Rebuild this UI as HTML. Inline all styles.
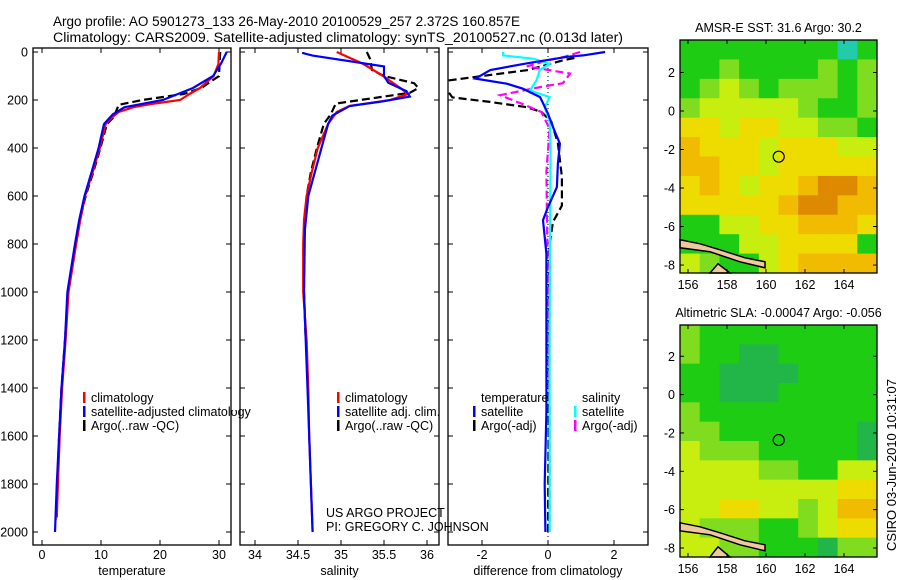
<!DOCTYPE html>
<html><head><meta charset="utf-8">
<style>
body{margin:0;background:#fff;}
svg{display:block;font-family:"Liberation Sans",sans-serif;}
</style></head>
<body>
<svg id="fig" width="900" height="580" viewBox="0 0 900 580">
<text x="53" y="26" font-size="13.5" textLength="467" lengthAdjust="spacingAndGlyphs">Argo profile: AO 5901273_133 26-May-2010 20100529_257 2.372S 160.857E</text>
<text x="53" y="42" font-size="13.5" textLength="570" lengthAdjust="spacingAndGlyphs">Climatology: CARS2009. Satellite-adjusted climatology: synTS_20100527.nc (0.013d later)</text>
<g id="p1"></g>
<g id="p2"></g>
<g id="p3"></g>
<g id="m1"></g>
<g id="m2"></g>
<text x="896" y="465" font-size="13" transform="rotate(-90 896 465)" text-anchor="middle">CSIRO 03-Jun-2010 10:31:07</text>
<text x="326" y="517" font-size="12.5">US ARGO PROJECT</text>
<text x="326" y="531" font-size="12.5">PI: GREGORY C. JOHNSON</text>
</svg>
<script>
// ---------- data ----------
const depthTicks=[0,200,400,600,800,1000,1200,1400,1600,1800,2000];
const tempTicks=[0,10,20,30];
const salTicks=[34,34.5,35,35.5,36];
const diffTicks=[-2,0,2];
const tClimD=[0,50,100,150,175,200,215,230,250,270,300,400,500,600,700,800,1000,1200,1400,1600,1800,1940];
const tClimV=[30,29.9,29.1,26.8,25,23.4,19,15.5,13,12,10.8,9.8,8.6,7.3,6.5,5.8,4.5,4.0,3.4,3.0,2.7,2.5];
const tSatD=[0,50,100,150,200,230,260,300,400,500,600,700,800,1000,1200,1400,1600,1800,2000];
const tSatV=[31.3,30.3,29,25.6,20.5,14,12,10.5,9.6,8.4,7.2,6.3,5.6,4.3,3.9,3.3,2.9,2.5,2.2];
const tArgD=[0,100,150,175,200,220,250,270,300,400,500,600,700,800,1000,1200,1400,1600,1800,1950];
const tArgV=[30.2,30,27,24,17,13,12.5,12.2,11,9.9,8.7,7.4,6.4,5.7,4.4,3.9,3.3,2.9,2.6,2.3];
const sClimD=[0,50,100,150,175,200,225,250,300,400,500,600,700,800,1000,1200,1400,1600,1800,2000];
const sClimV=[34.95,35.26,35.49,35.69,35.78,35.57,35.1,34.95,34.85,34.73,34.66,34.6,34.57,34.56,34.56,34.6,34.62,34.63,34.65,34.67];
const sSatD=[0,5,15,60,100,128,163,186,205,225,265,300,430,600,740,1000,1200,1400,1600,1800,2000];
const sSatV=[34.56,34.56,34.67,35.5,35.5,35.55,35.76,35.8,35.5,35.1,34.9,34.85,34.75,34.62,34.58,34.57,34.59,34.61,34.63,34.65,34.67];
const sArgD=[0,30,75,100,130,150,170,195,215,260,300,400,500,600,800,1000,1200];
const sArgV=[35.3,35.34,35.36,35.5,35.85,35.9,35.8,35.32,34.94,34.88,34.8,34.72,34.65,34.6,34.57,34.57,34.59];
const dTSatD=[0,14,20,47,75,111,132,153,188,257,313,382,465,563,646,701,771,840,979,1200,1500,1800,2000];
const dTSatV=[1.73,1.06,0.58,-0.63,-1.75,-2.2,-1.25,-0.76,-0.24,0,0.15,0.36,0.3,0.27,0,-0.15,-0.1,-0.05,-0.05,-0.05,-0.05,-0.1,-0.08];
const dTArgD=[25,33,75,120,150,189,208,230,250,290,380,520,640,708,800,1000,1500,2000];
const dTArgV=[0.8,0.5,-0.6,-3.1,-3.1,-2.9,-1.76,-0.64,-0.2,0.1,0.3,0.42,0.42,0.15,0.05,0.03,0.02,0.0];
const dSSatD=[0,14,28,50,75,118,160,188,230,290,400,800,1200,1600,2000];
const dSSatV=[-1.36,-1.36,-0.45,0.05,-0.25,-0.35,-0.55,0.05,-0.1,0.05,0.08,0.06,0.05,0.05,0.05];
const dSArgD=[0,20,35,60,90,130,145,180,215,250,320,500,1000,1500,2000];
const dSArgV=[0.97,0.5,0,-0.64,0.67,0.45,-0.2,-1.45,-0.8,-0.2,0.05,-0.05,0.0,0.05,0.05];
const mapLonTicks=[156,158,160,162,164];
const mapLatTicks=[2,0,-2,-4,-6,-8];
const sstRows=["GGGGGGGGcG","GGgGGGGgGg","GgygGgggGg","gyyyyygGGg","YYyYYyyggG","OYYYyYYYyy","OOYYyYYYYY","YOYyYYORRO","YYYYYORROO","GGyyYYOOOY","GGGyyYYYYG","ygGGyYOOOO"];
const slaRows=["gGGGGGGGGG","gGGDDGGGGG","GGDDDDGGGG","GGDDDGGGGG","gGGGGGGGGG","ggGGGGGGGD","ygggGGGGGD","yyyyggGGyy","yyyyyyyyYY","yyYYyygyOO","ygggGGgyYY","yyggGGGDgg"];
const floatLon=160.857, floatLat=-2.372;

// ---------- helpers ----------
const NS="http://www.w3.org/2000/svg";
function mk(parent,tag,attrs){const e=document.createElementNS(NS,tag);for(const k in attrs)e.setAttribute(k,attrs[k]);parent.appendChild(e);return e;}
const Y0=52,YK=0.24;
const yD=d=>Y0+d*YK;
const xT=v=>42+v*5.9;
const xS=v=>298+(v-34.5)*86;
const xDf=v=>548+v*33;
const TOP=48,BOT=545;

function panel(g,x0,x1,xs,ticks,label,showDepth){
  const cp=mk(g,'clipPath',{id:'c'+g.id});
  mk(cp,'rect',{x:x0,y:TOP,width:x1-x0,height:BOT-TOP});
  const fr=mk(g,'rect',{x:x0,y:TOP,width:x1-x0,height:BOT-TOP,fill:'none',stroke:'#000','stroke-width':1.3});
  
  
  depthTicks.forEach(d=>{
    const y=yD(d);
    mk(g,'line',{x1:x0,x2:x0+5,y1:y,y2:y,stroke:'#000'});
    mk(g,'line',{x1:x1-5,x2:x1,y1:y,y2:y,stroke:'#000'});
    if(showDepth){const t=mk(g,'text',{x:28,y:y+4.5,'font-size':12.5,'text-anchor':'end'});t.textContent=d;
      
      }
  });
  ticks.forEach(v=>{
    const x=xs(v);
    mk(g,'line',{x1:x,x2:x,y1:BOT,y2:BOT-5,stroke:'#000'});
    mk(g,'line',{x1:x,x2:x,y1:TOP,y2:TOP+5,stroke:'#000'});
    const t=mk(g,'text',{x:x,y:559,'font-size':12.5,'text-anchor':'middle'});t.textContent=v;
    
    
  });
  const l=mk(g,'text',{x:(x0+x1)/2,y:575,'font-size':12.5,'text-anchor':'middle'});l.textContent=label;
  
  
}
function series(g,D,V,xs,color,dash,name){
  const pts=D.map((d,i)=>xs(V[i]).toFixed(1)+','+yD(d).toFixed(1)).join(' ');
  const a={points:pts,fill:'none',stroke:color,'stroke-width':2.2,'clip-path':'url(#c'+g.id+')'};
  if(dash)a['stroke-dasharray']=dash;
  const p=mk(g,'polyline',a);
  
  
}
function legend(g,x,y,color,text,name){
  mk(g,'rect',{x:x,y:y-10,width:2.5,height:11,fill:color});
  const t=mk(g,'text',{x:x+8,y:y,'font-size':12.5});t.textContent=text;
  
  
}

// ---------- panels ----------
const p1=document.getElementById('p1'),p2=document.getElementById('p2'),p3=document.getElementById('p3');
panel(p1,33,231,xT,tempTicks,'temperature',true);
series(p1,tArgD,tArgV,xT,'#000','8,4','temp-argo-line');
series(p1,tClimD,tClimV,xT,'#f00',null,'temp-climatology-line');
series(p1,tSatD,tSatV,xT,'#00f',null,'temp-satellite-line');
legend(p1,83,402,'#f00','climatology','legend-climatology');
legend(p1,83,416,'#00f','satellite-adjusted climatology','legend-satellite');
legend(p1,83,430,'#000','Argo(..raw -QC)','legend-argo');

panel(p2,240,439,xS,salTicks,'salinity',false);
series(p2,sArgD,sArgV,xS,'#000','8,4','sal-argo-line');
series(p2,sClimD,sClimV,xS,'#f00',null,'sal-climatology-line');
series(p2,sSatD,sSatV,xS,'#00f',null,'sal-satellite-line');
legend(p2,337,402,'#f00','climatology','legend-climatology');
legend(p2,337,416,'#00f','satellite adj. clim.','legend-satellite');
legend(p2,337,430,'#000','Argo(..raw -QC)','legend-argo');
mk(p1,'rect',{x:232,y:390,width:7,height:20,fill:'#fff'});

panel(p3,448,648,xDf,diffTicks,'difference from climatology',false);
mk(p3,'line',{x1:xDf(0),x2:xDf(0),y1:TOP,y2:BOT,stroke:'#000','stroke-dasharray':'1,3','stroke-width':1});
series(p3,dTArgD,dTArgV,xDf,'#000','8,4','diff-temp-argo-line');
series(p3,dSArgD,dSArgV,xDf,'#f0f','8,4','diff-sal-argo-line');
series(p3,dSSatD,dSSatV,xDf,'#0ff',null,'diff-sal-satellite-line');
series(p3,dTSatD,dTSatV,xDf,'#00f',null,'diff-temp-satellite-line');
const lt=mk(p3,'text',{x:481,y:402,'font-size':12.5});lt.textContent='temperature';


legend(p3,473,416,'#00f','satellite','legend-temp-satellite');
legend(p3,473,430,'#000','Argo(-adj)','legend-temp-argo');
const ls=mk(p3,'text',{x:582,y:402,'font-size':12.5});ls.textContent='salinity';


legend(p3,574,416,'#0ff','satellite','legend-sal-satellite');
legend(p3,574,430,'#f0f','Argo(-adj)','legend-sal-argo');

// ---------- maps ----------
const COL={G:'#1fcc14',g:'#7fdc1e',y:'#c8ee10',Y:'#eedc00',O:'#f0bb00',R:'#dd8a00',c:'#22ccaa',D:'#22b648'};
function map(g,top,bot,rows,title,ycenter){
  const x0=680,x1=877;
  const lon=v=>688+(v-156)*19.5;
  const k=(bot-top)/12.1;
  const lat=v=>ycenter-v*k;
  const cw=(x1-x0)/10,ch=(bot-top)/12;
  rows.forEach((r,i)=>{for(let j=0;j<r.length;j++){
    const c=mk(g,'rect',{x:x0+j*cw,y:top+i*ch,width:cw+0.5,height:ch+0.5,fill:COL[r[j]]});
    
    
  }});
  const cy=lat(-7);
  const coast=mk(g,'path',{d:`M${x0} ${cy-6} L${x0+20} ${cy-2} L${x0+40} ${cy+4} L${x0+65} ${cy+12} L${x0+85} ${cy+16} L${x0+85} ${cy+22} L${x0+60} ${cy+16} L${x0+30} ${cy+6} L${x0} ${cy+2} Z M${x0+30} ${bot} L${x0+38} ${cy+18} L${x0+50} ${bot} Z`,fill:'#f0c8a0',stroke:'#000','stroke-width':1.5});
  
  
  const fl=mk(g,'circle',{cx:lon(floatLon)-4,cy:lat(floatLat),r:5.5,fill:'none',stroke:'#000','stroke-width':1.2});
  
  
  mk(g,'rect',{x:x0,y:top,width:x1-x0,height:bot-top,fill:'none',stroke:'#000','stroke-width':1.3});
  mapLonTicks.forEach(v=>{const x=lon(v);
    mk(g,'line',{x1:x,x2:x,y1:bot,y2:bot-4,stroke:'#000'});mk(g,'line',{x1:x,x2:x,y1:top,y2:top+4,stroke:'#000'});
    const t=mk(g,'text',{x:x,y:bot+16,'font-size':12.5,'text-anchor':'middle'});t.textContent=v;
    
    });
  mapLatTicks.forEach(v=>{const y=lat(v);
    mk(g,'line',{x1:x0,x2:x0+4,y1:y,y2:y,stroke:'#000'});mk(g,'line',{x1:x1-4,x2:x1,y1:y,y2:y,stroke:'#000'});
    const t=mk(g,'text',{x:675,y:y+4.5,'font-size':12.5,'text-anchor':'end'});t.textContent=v;
    
    });
  const t=mk(g,'text',{x:(x0+x1)/2,y:top-8,'font-size':12.5,'text-anchor':'middle'});t.textContent=title;
  
  
}
map(document.getElementById('m1'),40,273,sstRows,'AMSR-E SST: 31.6 Argo: 30.2',111);
map(document.getElementById('m2'),325,557,slaRows,'Altimetric SLA: -0.00047 Argo: -0.056',394.6);
</script>
</body></html>
